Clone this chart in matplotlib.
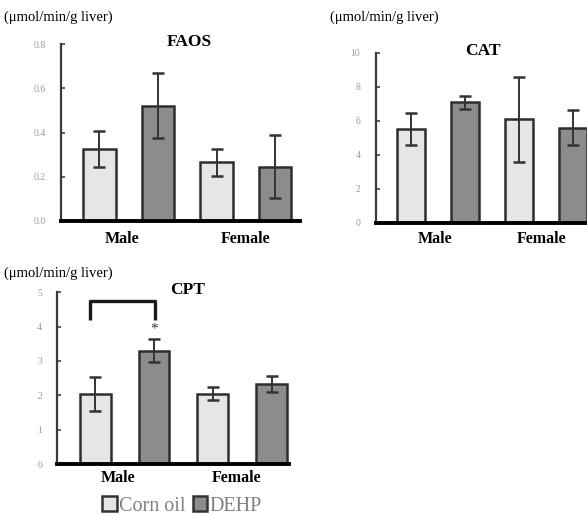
import matplotlib.pyplot as plt
from matplotlib.patches import Patch
import numpy as np

# values (mean, error)
groups = ['Male', 'Female']
treatments = ['Corn oil', 'DEHP']
unit_label = '(\u03bcmol/min/g liver)'

faos_mean = [0.325, 0.52, 0.265, 0.245]
faos_err = [0.08, 0.147, 0.06, 0.143]
faos_ticks = [0.0, 0.2, 0.4, 0.6, 0.8]

cat_mean = [5.5, 7.1, 6.1, 5.6]
cat_err = [0.95, 0.38, 2.5, 1.05]
cat_ticks = [0, 2, 4, 6, 8, 10]

cpt_mean = [2.03, 3.3, 2.05, 2.33]
cpt_err = [0.5, 0.33, 0.19, 0.23]
cpt_ticks = [0, 1, 2, 3, 4, 5]

W, H = 587, 515
fig = plt.figure(figsize=(W / 100, H / 100), dpi=100)
plt.rcParams['font.family'] = ['Liberation Serif', 'DejaVu Serif']

light = '#e6e6e6'
dark = '#8c8c8c'
edge = '#2e2e2e'


def make_panel(box, xlim, width, title, means, errs, ticks, fmt, title_x, label_xy):
    x0, y_top, x1, y_bot = box
    ax = fig.add_axes([x0 / W, 1 - y_bot / H, (x1 - x0) / W, (y_bot - y_top) / H])
    pos = np.arange(4)
    colors = [light, dark, light, dark]
    ax.bar(pos, means, width=width, color=colors, edgecolor=edge, linewidth=1.8, zorder=2)
    ax.errorbar(pos, means, yerr=errs, fmt='none', ecolor='#333333', elinewidth=1.4,
                capsize=4, capthick=1.8, zorder=3)
    ax.set_xlim(*xlim)
    ax.set_ylim(ticks[0], ticks[-1])
    ax.set_yticks(ticks)
    ax.set_yticklabels([fmt.format(t) for t in ticks], fontsize=7, color='#9a9a9a')
    ax.set_xticks([])
    ax.tick_params(axis='y', direction='in', length=3, width=1.2, color='#444444', pad=11)
    for s in ['top', 'right']:
        ax.spines[s].set_visible(False)
    ax.spines['left'].set_color('#3a3a3a')
    ax.spines['left'].set_linewidth(1.6)
    ax.spines['bottom'].set_color('black')
    ax.spines['bottom'].set_linewidth(2.8)
    ax.spines['bottom'].set_zorder(4)
    ax.set_facecolor('none')
    fig.text(title_x / W, 1 - (y_top - 2) / H, title, fontsize=12.5, fontweight='bold',
             ha='center', va='center')
    for g, (lx, ly) in zip(groups, label_xy):
        fig.text(lx / W, 1 - ly / H, g, fontsize=11.5, fontweight='bold', ha='center', va='center')
    return ax


# FAOS
make_panel((61, 44, 300, 221), (-0.658, 3.427), 0.55, 'FAOS', faos_mean, faos_err,
           faos_ticks, '{:.1f}', 189, [(122, 239), (246, 239)])
fig.text(4 / W, 1 - 17 / H, unit_label, fontsize=10.5, va='center', ha='left')

# CAT
make_panel((375.7, 53, 587, 222.7), (-0.654, 3.26), 0.52, 'CAT', cat_mean, cat_err,
           cat_ticks, '{:d}', 483, [(435, 239), (542, 239)])
fig.text(330 / W, 1 - 17 / H, unit_label, fontsize=10.5, va='center', ha='left')

# CPT
ax3 = make_panel((57.3, 292.3, 289, 464), (-0.64, 3.29), 0.525, 'CPT', cpt_mean, cpt_err,
                 cpt_ticks, '{:d}', 188, [(118, 478), (237, 478)])
fig.text(4 / W, 1 - 273 / H, unit_label, fontsize=10.5, va='center', ha='left')

# significance bracket between male corn oil and male DEHP
br_top, br_leg = 4.76, 4.2
ax3.plot([-0.08, -0.08, 1.02, 1.02], [br_leg, br_top, br_top, br_leg], color='#1a1a1a',
         lw=2.4, solid_capstyle='butt', clip_on=False, zorder=5)
ax3.text(1.0, cpt_mean[1] + cpt_err[1] + 0.1, '*', fontsize=11, ha='center', va='bottom',
         color='#333333')

# legend
handles = [Patch(facecolor=light, edgecolor='#333333', linewidth=1.8),
           Patch(facecolor=dark, edgecolor='#333333', linewidth=1.8)]
fig.legend(handles, treatments, loc='center', bbox_to_anchor=(182 / W, 1 - 506 / H), ncol=2,
           frameon=False, handlelength=0.7, handleheight=0.7, handletextpad=0.1,
           columnspacing=0.4, prop={'size': 14.5}, labelcolor='#808080', borderpad=0)

fig.savefig('out.png', dpi=100, facecolor='white')
